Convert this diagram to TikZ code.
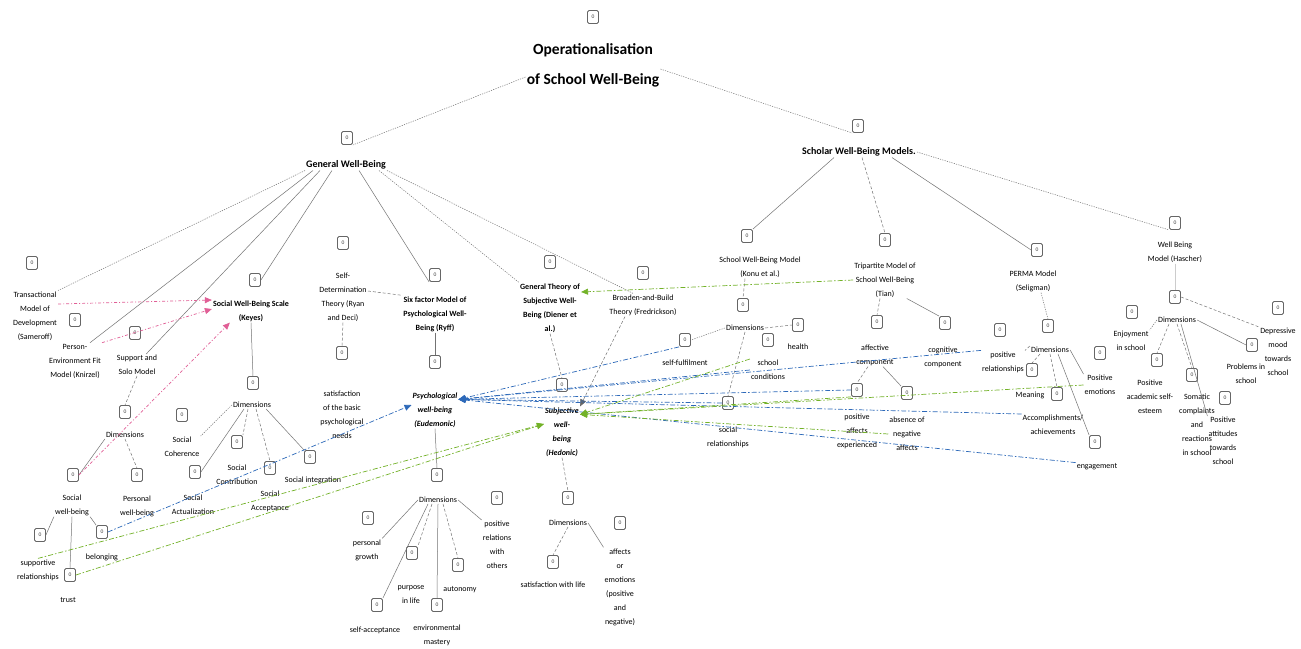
\documentclass[tikz,border=0pt]{standalone}
\usepackage{fontspec}
\setmainfont{Carlito}
\usetikzlibrary{arrows.meta}
\definecolor{bl}{RGB}{45,105,185}
\definecolor{gr}{RGB}{115,178,40}
\definecolor{pk}{RGB}{225,95,150}
\begin{document}
\begin{tikzpicture}[x=1pt,y=-1pt,
  ic/.style={draw=black!60, rounded corners=1.5pt, minimum width=11pt, minimum height=13pt, inner sep=0pt, font=\fontsize{5.5}{5.5}\selectfont, text=black!75, line width=0.8pt},
  tx/.style={align=center, font=\fontsize{8}{14}\selectfont, text=black, inner sep=1pt},
  bx/.style={tx, font=\fontsize{8}{14}\selectfont\bfseries},
  bi/.style={tx, font=\fontsize{8}{14}\selectfont\bfseries\itshape},
  hd/.style={tx, font=\fontsize{10}{12}\selectfont\bfseries, text=black},
  ttl/.style={align=center, font=\fontsize{15.5}{30}\selectfont\bfseries, inner sep=1pt},
  sl/.style={draw=black!55, line width=0.5pt},
  dt/.style={sl, dash pattern=on 1.2pt off 1.2pt},
  ds/.style={sl, dash pattern=on 3pt off 2pt},
  tip/.style={-{Triangle[length=7pt,width=6pt]}},
  blu/.style={draw=bl, line width=0.7pt, dash pattern=on 5pt off 2pt on 1.5pt off 2pt, tip},
  grn/.style={draw=gr, line width=0.7pt, dash pattern=on 5pt off 2pt on 1.5pt off 2pt, tip},
  pnk/.style={draw=pk, line width=0.7pt, dash pattern=on 3pt off 2pt on 1pt off 2pt, tip}]
\fill[white] (0,0) rectangle (1301,648);
\useasboundingbox (0,0) rectangle (1301,648);
% top
\node[ic] (iT) at (593,17) {0};
\node[ttl] (T) at (593,65) {Operationalisation\\of School Well-Being};
\node[ic] (iG) at (347,138) {0};
\node[hd] (G) at (346,165) {General Well-Being};
\node[ic] (iS) at (858,126) {0};
\node[hd] (S) at (859,152) {Scholar Well-Being Models.};
\draw[dt] ([yshift=-12pt]T.west) -- (iG.south east);
\draw[dt] ([yshift=-4pt]T.east) -- (iS.south west);
% left group
\node[ic] (iTr) at (32,263) {0};
\node[tx] (Tr) at (35,316) {Transactional\\Model of\\Development\\(Sameroff)};
\node[ic] (iPE) at (75,320) {0};
\node[tx] (PE) at (75,361) {Person-\\Environment Fit\\Model (Knirzel)};
\node[ic] (iSS) at (135,333) {0};
\node[tx] (SS) at (137,365) {Support and\\Solo Model};
\node[ic] (iD1) at (125,412) {0};
\node[tx] (D1) at (125,435) {Dimensions};
\node[ic] (iSW1) at (73,475) {0};
\node[tx] (SWB) at (72,505) {Social\\well-being};
\node[ic] (iPW) at (137,475) {0};
\node[tx] (PWB) at (137,506) {Personal\\well-being};
\node[ic] (iSR) at (40,535) {0};
\node[tx] (SR) at (38,570) {supportive\\relationships};
\node[ic] (iTu) at (70,575) {0};
\node[tx] (Tu) at (68,600) {trust};
\node[ic] (iBe) at (102,532) {0};
\node[tx] (Be) at (102,557) {belonging};
\draw[dt] (G.south west) -- (Tr.north east);
\draw[sl] ([xshift=8pt]G.south west) -- ([xshift=-12pt]PE.north east);
\draw[sl] ([xshift=15pt]G.south west) -- ([xshift=-12pt]SS.north east);
\draw[ds] (SS.south) -- (iD1.north);
\draw[sl] (D1.south west) -- (iSW1.east);
\draw[ds] (D1.south) -- (iPW.north);
\draw[sl] (SWB.south west) -- (iSR.east);
\draw[sl] (SWB.south) -- (iTu.north);
\draw[sl] (SWB.south east) -- (iBe.north west);
% Keyes
\node[ic] (iK) at (255,280) {0};
\node[bx] (K) at (251,311) {Social Well-Being Scale\\(Keyes)};
\node[ic] (iKD) at (253,383) {0};
\node[tx] (KD) at (252,405) {Dimensions};
\node[ic] (iSC) at (182,415) {0};
\node[tx] (SC) at (182,447) {Social\\Coherence};
\node[ic] (iSCo) at (237,442) {0};
\node[tx] (SCo) at (237,475) {Social\\Contribution};
\node[ic] (iSA) at (195,472) {0};
\node[tx] (SA) at (193,505) {Social\\Actualization};
\node[ic] (iSAc) at (270,468) {0};
\node[tx] (SAc) at (270,501) {Social\\Acceptance};
\node[ic] (iSI) at (310,457) {0};
\node[tx] (SI) at (313,480) {Social integration};
\draw[sl] ([xshift=27pt]G.south west) -- (iK.east);
\draw[sl] (K.south) -- (iKD.north);
\draw[dt] (KD.west) -- (SC.north east);
\draw[sl] ([xshift=-8pt]KD.south) -- (iSA.east);
\draw[ds] ([xshift=-4pt]KD.south) -- (iSCo.north east);
\draw[ds] ([xshift=4pt]KD.south) -- (iSAc.north);
\draw[sl] ([xshift=-6pt]KD.south east) -- (iSI.north west);
% Self-determination
\node[ic] (iSD) at (343,243) {0};
\node[tx] (SD) at (343,297) {Self-\\Determination\\Theory (Ryan\\and Deci)};
\node[ic] (iSN) at (342,353) {0};
\node[tx] (SN) at (342,415) {satisfaction\\of the basic\\psychological\\needs};
\draw[ds] (SD.south) -- (iSN.north);
% Six factor
\node[ic] (iSix) at (435,275) {0};
\node[bx] (Six) at (435,314) {Six factor Model of\\Psychological Well-\\Being (Ryff)};
\draw[ds] ([yshift=6pt]SD.east) -- (Six.north west);
\draw[sl] ([xshift=-28pt]G.south east) -- (iSix.south west);
\node[ic] (iSix2) at (435,362) {0};
\draw[sl] (Six.south) -- (iSix2.north);
\node[bi] (PW2) at (435,410) {Psychological\\well-being\\(Eudemonic)};
\node[ic] (iED) at (437,475) {0};
\draw[sl] (PW2.south) -- (iED.north);
\node[tx] (ED) at (438,500) {Dimensions};
\node[ic] (iPG) at (368,518) {0};
\node[tx] (PG) at (367,550) {personal\\growth};
\node[ic] (iPL) at (412,553) {0};
\node[tx] (PL) at (411,595) {purpose\\in life};
\node[ic] (iSAcc) at (377,605) {0};
\node[tx] (SAcc) at (375,630) {self-acceptance};
\node[ic] (iEM) at (437,605) {0};
\node[tx] (EM) at (437,635) {environmental\\mastery};
\node[ic] (iAu) at (458,565) {0};
\node[tx] (Au) at (460,590) {autonomy};
\node[ic] (iPRO) at (497,498) {0};
\node[tx] (PRO) at (497,545) {positive\\relations\\with\\others};
\draw[sl] (ED.west) -- (PG.north east);
\draw[ds] ([xshift=-6pt]ED.south) -- (iPL.north east);
\draw[sl] ([xshift=-10pt]ED.south) -- (iSAcc.north east);
\draw[sl] (ED.south) -- (iEM.north);
\draw[ds] ([xshift=5pt]ED.south) -- (iAu.north);
\draw[sl] (ED.east) -- (PRO.north west);
% General theory
\node[ic] (iGT) at (550,262) {0};
\node[bx] (GT) at (550,308) {General Theory of\\Subjective Well-\\Being (Diener et\\al.)};
\draw[dt] ([xshift=-8pt]G.south east) -- (GT.north west);
\node[ic] (iSub) at (562,385) {0};
\draw[ds] (GT.south) -- (iSub.north);
\node[bi] (Sub) at (562,432) {Subjective\\well-\\being\\(Hedonic)};
\node[ic] (iHD) at (568,498) {0};
\draw[ds] (Sub.south) -- (iHD.north);
\node[tx] (HD) at (568,523) {Dimensions};
\node[ic] (iSL) at (553,562) {0};
\node[tx] (SL) at (553,585) {satisfaction with life};
\node[ic] (iAE) at (620,523) {0};
\node[tx] (AE) at (620,587) {affects\\or\\emotions\\(positive\\and\\negative)};
\draw[ds] (HD.south) -- (iSL.north);
\draw[sl] (HD.east) -- (AE.north west);
% Broaden
\node[ic] (iBB) at (643,273) {0};
\node[tx] (BB) at (643,305) {Broaden-and-Build\\Theory (Fredrickson)};
\draw[dt] (G.south east) -- ([xshift=-10pt]BB.north);
\draw[ds, draw=black!60, tip] ([xshift=-18pt]BB.south) -- (Sub.north east);
% School WB model
\node[ic] (iSW) at (747,236) {0};
\node[tx] (SWM) at (760,267) {School Well-Being Model\\(Konu et al.)};
\node[ic] (iSWD) at (743,305) {0};
\node[tx] (SWD) at (745,328) {Dimensions};
\draw[ds] ([xshift=-15pt]SWM.south) -- (iSWD.north);
\node[ic] (iSF) at (685,340) {0};
\node[tx] (SF) at (685,363) {self-fulfilment};
\draw[dt] (SWD.west) -- (iSF.east);
\node[ic] (iHe) at (798,325) {0};
\node[tx] (He) at (798,347) {health};
\draw[ds] (SWD.east) -- (iHe.west);
\node[ic] (iSCn) at (768,340) {0};
\node[tx] (SCn) at (768,370) {school\\conditions};
\node[ic] (iSRl) at (728,403) {0};
\node[tx] (SRl) at (728,437) {social\\relationships};
\draw[ds] (SWD.south) -- (iSRl.north);
% Tripartite
\node[ic] (iTp) at (885,240) {0};
\node[tx] (Tp) at (885,280) {Tripartite Model of\\School Well-Being\\(Tian)};
\node[ic] (iAC) at (877,322) {0};
\node[tx] (AC) at (875,355) {affective\\component};
\draw[ds] ([xshift=-5pt]Tp.south) -- (iAC.north);
\node[ic] (iCC) at (945,323) {0};
\node[tx] (CC) at (943,357) {cognitive\\component};
\draw[sl] ([xshift=-10pt]Tp.south east) -- (iCC.north west);
\node[ic] (iPAE) at (857,390) {0};
\node[tx] (PAE) at (857,431) {positive\\affects\\experienced};
\node[ic] (iANA) at (907,393) {0};
\node[tx] (ANA) at (907,434) {absence of\\negative\\affects};
\draw[ds] ([xshift=-7pt]AC.south) -- (iPAE.north);
\draw[sl] ([xshift=8pt]AC.south) -- (iANA.north west);
% PERMA
\node[ic] (iP) at (1037,250) {0};
\node[tx] (P) at (1033,281) {PERMA Model\\(Seligman)};
\node[ic] (iPD) at (1048,326) {0};
\node[tx] (PD) at (1050,350) {Dimensions};
\draw[dt] ([xshift=8pt]P.south) -- (iPD.north);
\node[ic] (iPR) at (1000,330) {0};
\node[tx] (PR) at (1003,362) {positive\\relationships};
\draw[ds] (PD.north west) -- (PR.north east);
\node[ic] (iMe) at (1032,370) {0};
\node[tx] (Me) at (1030,395) {Meaning};
\node[ic] (iAcc) at (1057,394) {0};
\node[tx] (Acc) at (1053,425) {Accomplishments/\\achievements};
\node[ic] (iEng) at (1095,442) {0};
\node[tx] (Eng) at (1097,467) {engagement};
\node[ic] (iPEm) at (1100,353) {0};
\node[tx] (PEm) at (1100,385) {Positive\\emotions};
\draw[ds] ([xshift=-10pt]PD.south) -- (iMe.north);
\draw[ds] (PD.south) -- (iAcc.north);
\draw[sl] ([xshift=8pt]PD.south) -- (iEng.north west);
\draw[sl] (PD.east) -- (PEm.north west);
% Hascher
\node[ic] (iH) at (1175,223) {0};
\node[tx] (H) at (1175,252) {Well Being\\Model (Hascher)};
\node[ic] (iHDm) at (1175,297) {0};
\draw[draw=black!20, line width=0.5pt] (H.south) -- (iHDm.north);
\node[tx] (HDm) at (1177,320) {Dimensions};
\node[ic] (iEn) at (1132,312) {0};
\node[tx] (En) at (1131,341) {Enjoyment\\in school};
\draw[dt] (HDm.west) -- (En.north east);
\node[ic] (iPAS) at (1157,360) {0};
\node[tx] (PAS) at (1150,397) {Positive\\academic self-\\esteem};
\draw[ds] ([xshift=-8pt]HDm.south) -- (iPAS.north);
\node[ic] (iSom) at (1192,375) {0};
\node[tx] (Som) at (1197,425) {Somatic\\complaints\\and\\reactions\\in school};
\draw[ds] (HDm.south) -- (iSom.north);
\node[ic] (iPAt) at (1225,398) {0};
\node[tx] (PAt) at (1223,441) {Positive\\attitudes\\towards\\school};
\draw[sl] ([xshift=4pt]HDm.south) -- (PAt.north west);
\node[ic] (iPiS) at (1252,345) {0};
\node[tx] (PiS) at (1246,374) {Problems in\\school};
\draw[sl] (HDm.east) -- (iPiS.west);
\node[ic] (iDep) at (1278,308) {0};
\node[tx] (Dep) at (1278,352) {Depressive\\mood\\towards\\school};
\draw[ds] (iHDm.east) -- (Dep.north west);
% Scholar links
\draw[sl] ([xshift=-25pt]S.south) -- (iSW.north east);
\draw[ds] ([xshift=3pt]S.south) -- (iTp.north);
\draw[sl] ([xshift=33pt]S.south) -- (iP.west);
\draw[dt] (S.east) -- (iH.south west);
% pink cross-links
\draw[pnk] ([yshift=12pt]Tr.east) -- ([yshift=11pt]K.west);
\draw[pnk] (PE.north east) -- ([yshift=2pt]K.west);
\draw[pnk] (iSW1.east) -- ([xshift=18pt]K.south west);
% blue cross-links
\draw[blu] (iBe.east) -- ([yshift=5pt]PW2.west);
\draw[blu] (iSF.south west) -- ([yshift=-8pt]PW2.north east);
\draw[blu] (PR.north west) -- ([yshift=-8pt]PW2.north east);
\draw[blu] (SCn.west) -- ([yshift=-8pt]PW2.north east);
\draw[blu] (iSRl.west) -- ([yshift=-8pt]PW2.north east);
\draw[blu] (iPAE.west) -- ([yshift=-8pt]PW2.north east);
\draw[blu] (Acc.north west) -- ([yshift=-8pt]PW2.north east);
\draw[blu] (Eng.north west) -- ([yshift=-8pt]PW2.north east);
% green cross-links
\draw[grn] (SCn.north west) -- ([yshift=-8pt]Sub.north east);
\draw[grn] (PEm.west) -- ([yshift=-8pt]Sub.north east);
\draw[grn] (iPAE.south west) -- ([yshift=-8pt]Sub.north east);
\draw[grn] (ANA.west) -- ([yshift=-8pt]Sub.north east);
\draw[grn] (SR.north) -- ([yshift=8pt]Sub.west);
\draw[grn] (iTu.east) -- ([yshift=8pt]Sub.west);
\draw[grn] (Tp.west) -- ([yshift=16pt]GT.east);
\end{tikzpicture}
\end{document}
